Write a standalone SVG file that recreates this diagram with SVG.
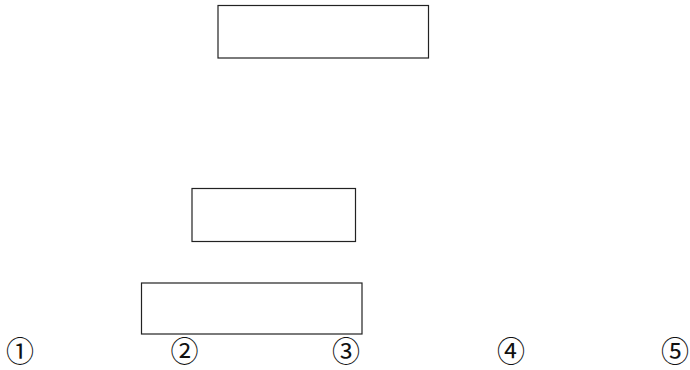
<svg xmlns="http://www.w3.org/2000/svg" width="690" height="370" viewBox="0 0 690 370">
<style>
.box{fill:#fff;stroke:#222;stroke-width:1.2}
.num{font-family:"Noto Sans CJK KR","Noto Sans",sans-serif;font-size:28px;fill:#111;text-anchor:middle}
</style>
<rect width="690" height="370" fill="#fff"/>
<g id="node-top"><rect class="box" x="218" y="5.5" width="210.5" height="52.5"/></g>
<g id="node-middle"><rect class="box" x="192" y="188.5" width="163.5" height="53"/></g>
<g id="node-bottom"><rect class="box" x="141.5" y="283" width="220.5" height="51"/></g>
<g id="connectors"></g>
<g id="labels">
<text class="num" x="20" y="362">①</text>
<text class="num" x="184.5" y="362">②</text>
<text class="num" x="346" y="362">③</text>
<text class="num" x="511" y="362">④</text>
<text class="num" x="675" y="362">⑤</text>
</g>
</svg>
